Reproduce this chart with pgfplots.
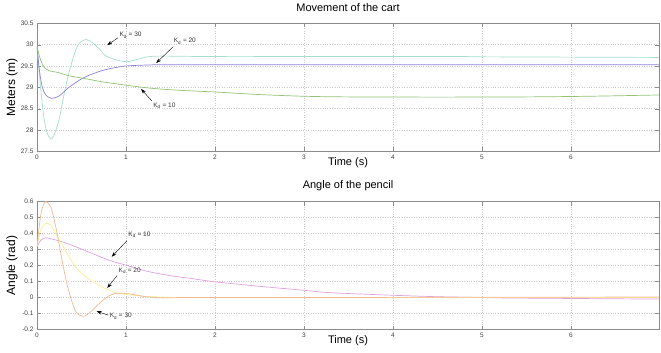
\documentclass[border=0pt]{standalone}
\usepackage{pgfplots}
\pgfplotsset{compat=1.18}
\usepackage{fontspec}
\setmainfont{Liberation Sans}
\usetikzlibrary{arrows.meta}
\definecolor{cyanK}{RGB}{165,222,205}
\definecolor{blueK}{RGB}{140,130,220}
\definecolor{greenK}{RGB}{145,195,115}
\definecolor{orangeK}{RGB}{240,185,150}
\definecolor{yellowK}{RGB}{250,238,150}
\definecolor{magK}{RGB}{222,160,222}
\definecolor{axgray}{RGB}{140,140,140}
\tikzset{
  ann/.style={-{Stealth[length=5pt,width=3.5pt]}, black, line width=0.4pt},
  annl/.style={font=\fontsize{6.5}{7}\selectfont, anchor=west, inner sep=0.5pt, text=black!80},
}
\pgfplotsset{
  matstyle/.style={
    scale only axis, width=622pt, height=128pt,
    xmin=0, xmax=6.99, xtick={0,...,6},
    axis line style={axgray},
    tick style={axgray}, tick align=inside, major tick length=4pt,
    xtick pos=both, ytick pos=both,
    grid=major, major grid style={dotted, gray!40, line width=0.5pt},
    tick label style={font=\fontsize{6.5}{7}\selectfont, text=black!75},
    /pgf/number format/assume math mode=true,
    title style={font=\fontsize{11}{13}\selectfont, at={(axis description cs:0.5,1)}, anchor=center, yshift=10pt},
    xlabel style={font=\fontsize{11}{13}\selectfont, at={(axis description cs:0.5,0)}, anchor=center, yshift=-11pt},
    ylabel style={font=\fontsize{12}{14}\selectfont, at={(axis description cs:-0.040,0.5)}, anchor=center},
    every axis plot/.append style={line width=0.7pt, smooth, tension=0.5},
  },
}
\begin{document}
\begin{tikzpicture}
\path[use as bounding box] (-37pt,-201.7pt) rectangle (624pt,151.3pt);
\begin{axis}[matstyle, anchor=south west, at={(0pt,0pt)},
  ymin=27.5, ymax=30.5, ytick={27.5,28,...,30.5},
  title={Movement of the cart}, xlabel={Time (s)}, ylabel={Meters (m)}]
% Kd = 30
\addplot[cyanK] coordinates {
(0,29.95) (0.042,28.96) (0.08,28.26) (0.117,27.91) (0.154,27.79) (0.19,27.87)
(0.25,28.26) (0.30,28.8) (0.36,29.35) (0.42,29.78) (0.47,30.02) (0.55,30.12)
(0.62,30.05) (0.70,29.9) (0.77,29.74) (0.88,29.65) (1.0,29.6) (1.12,29.65)
(1.23,29.71) (1.34,29.73) (1.49,29.73) (2.0,29.72) (3.0,29.72) (4.85,29.72)};
\addplot[cyanK, sharp plot] coordinates {(4.85,29.715) (6.99,29.70)};
% Kd = 20
\addplot[blueK] coordinates {
(0,29.95) (0.03,29.35) (0.06,29.0) (0.098,28.82) (0.165,28.74) (0.25,28.8)
(0.36,29.0) (0.51,29.21) (0.62,29.31) (0.73,29.39) (0.85,29.45) (1.0,29.5)
(1.2,29.52) (1.42,29.53) (2.0,29.53) (4.0,29.53) (6.99,29.53)};
% Kd = 10
\addplot[greenK] coordinates {
(0,29.95) (0.042,29.63) (0.08,29.47) (0.135,29.39) (0.25,29.34) (0.36,29.27)
(0.55,29.2) (0.73,29.13) (1.0,29.05) (1.27,28.98) (1.6,28.93) (2.0,28.89)
(2.5,28.83) (3.0,28.79) (3.5,28.775) (4.5,28.77) (5.5,28.775) (6.2,28.79) (6.99,28.82)};
\draw[ann] (axis cs:0.91,30.16) -- (axis cs:0.79,29.99);
\node[annl] at (axis cs:0.92,30.22) {K\textsubscript{d} = 30};
\draw[ann] (axis cs:1.53,29.95) -- (axis cs:1.34,29.57);
\node[annl] at (axis cs:1.53,30.08) {K\textsubscript{d} = 20};
\draw[ann] (axis cs:1.29,28.68) -- (axis cs:1.17,28.96);
\node[annl] at (axis cs:1.30,28.56) {K\textsubscript{d} = 10};
\end{axis}
\begin{axis}[matstyle, anchor=south west, at={(0pt,-178.2pt)},
  ymin=-0.2, ymax=0.6, ytick={-0.2,-0.1,...,0.6},
  yticklabels={-0.2,-0.1,0,0.1,0.2,0.3,0.4,0.5,0.6},
  title={Angle of the pencil}, xlabel={Time (s)}, ylabel={Angle (rad)}]
% Kd = 10
\addplot[magK] coordinates {
(0,0.317) (0.042,0.358) (0.098,0.373) (0.17,0.365) (0.285,0.348) (0.435,0.317)
(0.62,0.275) (0.81,0.233) (1.0,0.202) (1.23,0.165) (1.49,0.137) (1.72,0.12)
(2.0,0.098) (2.5,0.07) (3.0,0.045) (3.3,0.03) (4.0,0.014) (4.5,0.005) (5.0,0.0)
(5.3,-0.003) (6.0,-0.006) (6.99,-0.01)};
% Kd = 20
\addplot[yellowK] coordinates {
(0,0.317) (0.042,0.42) (0.098,0.4625) (0.154,0.452) (0.21,0.4) (0.285,0.327)
(0.36,0.254) (0.435,0.19) (0.55,0.129) (0.66,0.0875) (0.77,0.056) (0.88,0.031)
(1.0,0.019) (1.12,0.012) (1.27,0.006) (1.49,0.002) (2.0,0.0) (4.0,0.0) (6.99,0.0)};
% Kd = 30
\addplot[orangeK] coordinates {
(0,0.317) (0.042,0.515) (0.08,0.5875) (0.109,0.598) (0.154,0.567) (0.19,0.494)
(0.23,0.39) (0.285,0.223) (0.34,0.077) (0.40,-0.0375) (0.45,-0.1) (0.53,-0.117)
(0.60,-0.09) (0.70,-0.0375) (0.79,0.004) (0.88,0.025) (1.0,0.025) (1.12,0.015)
(1.23,0.004) (1.42,-0.002) (1.7,0.0) (3.0,0.0) (6.99,0.003)};
\draw[ann] (axis cs:1.01,0.354) -- (axis cs:0.84,0.255);
\node[annl] at (axis cs:1.02,0.39) {K\textsubscript{d} = 10};
\draw[ann] (axis cs:0.90,0.137) -- (axis cs:0.79,0.06);
\node[annl] at (axis cs:0.91,0.165) {K\textsubscript{d} = 20};
\draw[ann] (axis cs:0.80,-0.11) -- (axis cs:0.67,-0.086);
\node[annl] at (axis cs:0.81,-0.117) {K\textsubscript{d} = 30};
\end{axis}
\end{tikzpicture}
\end{document}
